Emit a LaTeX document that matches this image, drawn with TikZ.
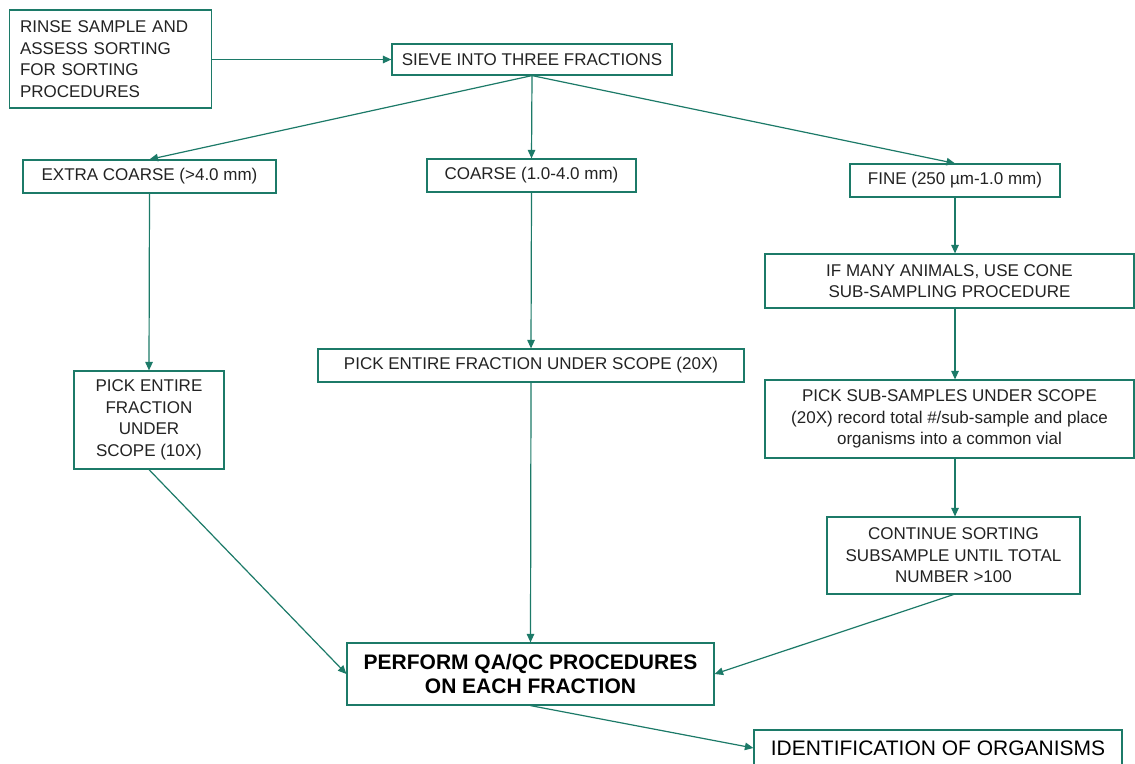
\documentclass[tikz,border=0pt]{standalone}
\usepackage{fontspec}
\setmainfont{Liberation Sans}
\usetikzlibrary{arrows.meta}
\definecolor{flowgreen}{RGB}{28,122,104}
\definecolor{inkgray}{RGB}{35,35,35}
\begin{document}
\begin{tikzpicture}[x=1pt,y=-1pt,
  box/.style={draw=flowgreen, line width=1.2pt, fill=white, inner sep=0pt,
    align=center, text=inkgray,
    font=\fontsize{17}{21.5}\selectfont},
  bigbox/.style={box, text=black, font=\fontsize{21}{24}\selectfont},
  flow/.style={draw=flowgreen, line width=1.2pt,
    -{Triangle[length=8.5pt,width=7.5pt]}}]
\useasboundingbox[fill=white] (0,0) rectangle (1135,763);

% boxes, placed by centre with fixed outer size
\node[box, minimum width=202pt, minimum height=98pt, align=left, text width=181pt]
  (rinse) at (110.5,59) {RINSE SAMPLE AND\\ASSESS SORTING\\FOR SORTING\\PROCEDURES};
\node[box, minimum width=280pt, minimum height=31pt] (sieve) at (532,59.5) {SIEVE INTO THREE FRACTIONS};
\node[box, minimum width=253pt, minimum height=33pt] (extra) at (149.5,176.5) {EXTRA COARSE (>4.0 mm)};
\node[box, minimum width=209pt, minimum height=33pt] (coarse) at (531.5,175.5) {COARSE (1.0-4.0 mm)};
\node[box, minimum width=210pt, minimum height=33pt] (fine) at (955,180.5) {FINE (250 µm-1.0 mm)};
\node[box, minimum width=369pt, minimum height=54pt] (cone) at (949.5,281) {IF MANY ANIMALS, USE CONE\\SUB-SAMPLING PROCEDURE};
\node[box, minimum width=369pt, minimum height=78pt] (subs) at (949.5,419) {PICK SUB-SAMPLES UNDER SCOPE\\(20X) record total \#/sub-sample and place\\organisms into a common vial};
\node[box, minimum width=253pt, minimum height=77pt] (cont) at (953.5,555.5) {CONTINUE SORTING\\SUBSAMPLE UNTIL TOTAL\\NUMBER >100};
\node[box, minimum width=426pt, minimum height=33pt] (pickmid) at (531,365.5) {PICK ENTIRE FRACTION UNDER SCOPE (20X)};
\node[box, minimum width=150pt, minimum height=98pt] (pickleft) at (149,420) {PICK ENTIRE\\FRACTION\\UNDER\\SCOPE (10X)};
\node[bigbox, minimum width=367pt, minimum height=62pt, font=\bfseries\fontsize{21}{24}\selectfont]
  (qa) at (530.5,674) {PERFORM QA/QC PROCEDURES\\ON EACH FRACTION};
\node[bigbox, minimum width=368pt, minimum height=36pt] (ident) at (938,748) {IDENTIFICATION OF ORGANISMS};

% connectors
\draw[flow] (rinse.east |- sieve.west) -- (sieve.west);
\draw[flow] (sieve.south) -- (extra.north);
\draw[flow] (sieve.south) -- (coarse.north);
\draw[flow] (sieve.south) -- (fine.north);
\draw[flow] (extra.south) -- (pickleft.north);
\draw[flow] (coarse.south) -- (pickmid.north);
\draw[flow] (fine.south) -- (cone.north -| fine.south);
\draw[flow] (cone.south -| fine.south) -- (subs.north -| fine.south);
\draw[flow] (subs.south -| fine.south) -- (cont.north -| fine.south);
\draw[flow] (pickleft.south) -- (qa.west);
\draw[flow] (pickmid.south) -- (qa.north);
\draw[flow] (cont.south) -- (qa.east);
\draw[flow] (qa.south) -- (ident.west);
\end{tikzpicture}
\end{document}
